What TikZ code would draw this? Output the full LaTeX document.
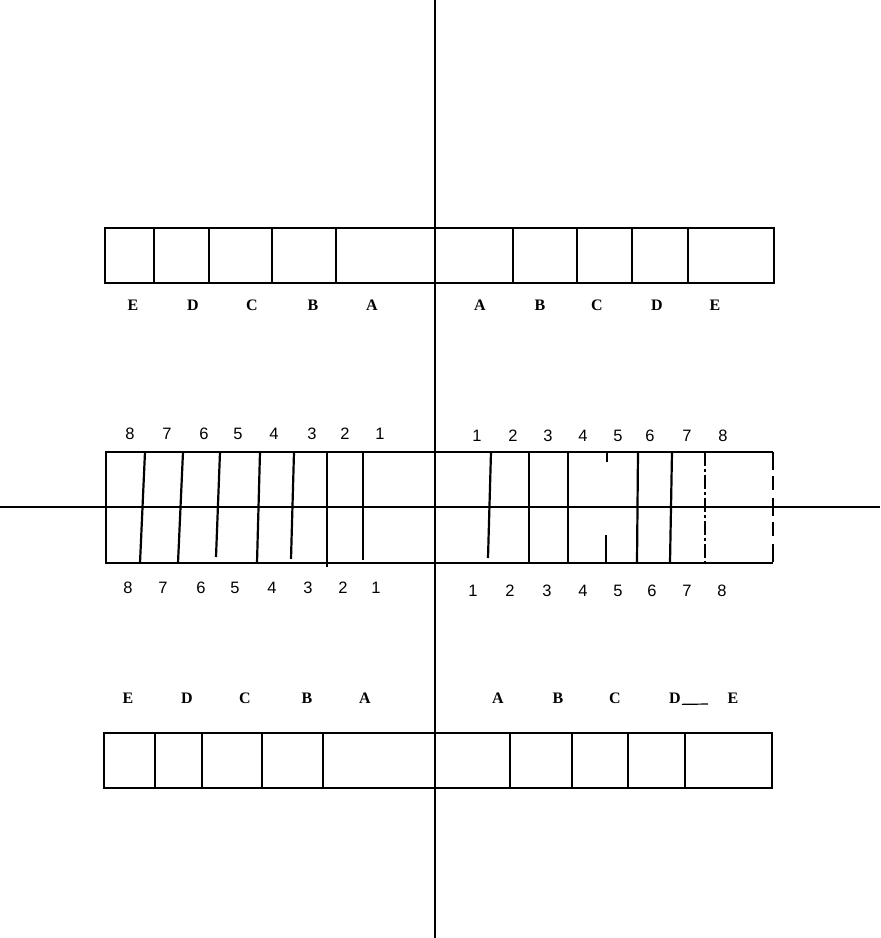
\documentclass[tikz,border=0pt]{standalone}
\usepackage{fontspec}
\newfontfamily\letfont{Liberation Serif}
\newfontfamily\numfont{Liberation Sans}
\begin{document}
\begin{tikzpicture}[x=1pt,y=-1pt,line width=2.2pt,
  lt/.style={font=\letfont\bfseries\fontsize{16}{16}\selectfont,inner sep=0pt},
  nm/.style={font=\numfont\fontsize{16.5}{16.5}\selectfont,inner sep=0pt},
  axisline/.style={line width=1.8pt}]
\useasboundingbox (0,0) rectangle (881,938);
% axes
\draw[axisline] (435,0) -- (435,938);
\draw[axisline] (0,507) -- (880,507);
% top bar
\draw (105,228) rectangle (774,283);
\foreach \x in {154,209,272,336,513,577,632,688} \draw (\x,228) -- (\x,283);
\foreach \t/\x in {E/133,D/193,C/252,B/313,A/372} \node[lt] (tl\t) at (\x,305) {\t};
\foreach \t/\x in {A/480,B/540,C/597,D/657,E/715} \node[lt] (tr\t) at (\x,305) {\t};
% middle bar
\draw (773,452) -- (106,452) -- (106,563) -- (773,563);
\draw[dash pattern=on 18pt off 6pt on 14pt off 8pt] (773,452) -- (773,563);
\foreach \a/\b/\c/\d in {145/452/140/563, 183/452/178/563, 220/452/216/557, 260/452/257/563,
  294/452/291/559, 327/452/327/567, 363/452/363/560, 491/452/488/558, 529/452/529/563,
  568/452/568/563, 638/452/637/563, 672/452/670/563}
  \draw (\a,\b) -- (\c,\d);
\draw (607,452) -- (607,462);
\draw (606,535) -- (606,563);
\draw[dash pattern=on 14pt off 3pt on 3pt off 3pt] (705,452) -- (705,563);
\foreach \t/\x in {8/130,7/167,6/204,5/238,4/274,3/312,2/345,1/380} \node[nm] (ml\t) at (\x,434) {\t};
\foreach \t/\x in {1/477,2/513,3/548,4/583,5/618,6/650,7/687,8/723} \node[nm] (mr\t) at (\x,436) {\t};
\foreach \t/\x in {8/128,7/163,6/201,5/235,4/272,3/308,2/343,1/376} \node[nm] (bl\t) at (\x,588) {\t};
\foreach \t/\x in {1/473,2/510,3/547,4/583,5/618,6/652,7/687,8/722} \node[nm] (br\t) at (\x,591) {\t};
% bottom bar
\draw (104,733) rectangle (772,788);
\foreach \x in {155,202,262,323,510,572,628,685} \draw (\x,733) -- (\x,788);
\foreach \t/\x in {E/128,D/187,C/245,B/307,A/365} \node[lt] (ul\t) at (\x,698) {\t};
\foreach \t/\x in {A/498,B/558,C/615,D/675,E/733} \node[lt] (ur\t) at (\x,698) {\t};
\draw[line width=1.2pt] (urD.south east) -- (708,704);
\end{tikzpicture}
\end{document}
